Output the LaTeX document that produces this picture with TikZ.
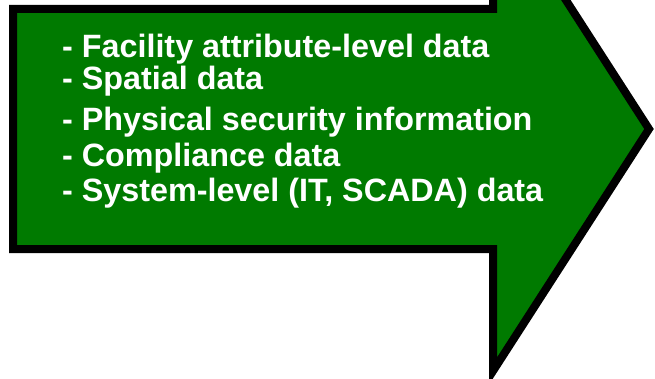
\documentclass[tikz,border=0pt]{standalone}
\usepackage{fontspec}
\setmainfont{Liberation Sans}
\definecolor{arrowgreen}{HTML}{007A00}
\tikzset{
  item/.style={anchor=base west,inner sep=0pt,text=white,font=\fontsize{32.3}{32.3}\selectfont\bfseries}
}
\begin{document}
\begin{tikzpicture}[x=1pt,y=-1pt]
\useasboundingbox (0,0) rectangle (655,379);
\begin{scope}
\path[clip] (0,0) rectangle (655,379);
\draw[fill=arrowgreen,line width=8pt] (13,9) -- (493,9) -- (493,-113) -- (649,129) -- (493,371) -- (493,249) -- (13,249) -- cycle;
\end{scope}
\foreach \y/\t [count=\i] in {58/{- Facility attribute-level data}, 90/{- Spatial data}, 131/{- Physical security information}, 167/{- Compliance data}, 202/{- System-level (IT, SCADA) data}} {
	\node[item] (line\i) at (62,\y) {\t};
}
\end{tikzpicture}
\end{document}
